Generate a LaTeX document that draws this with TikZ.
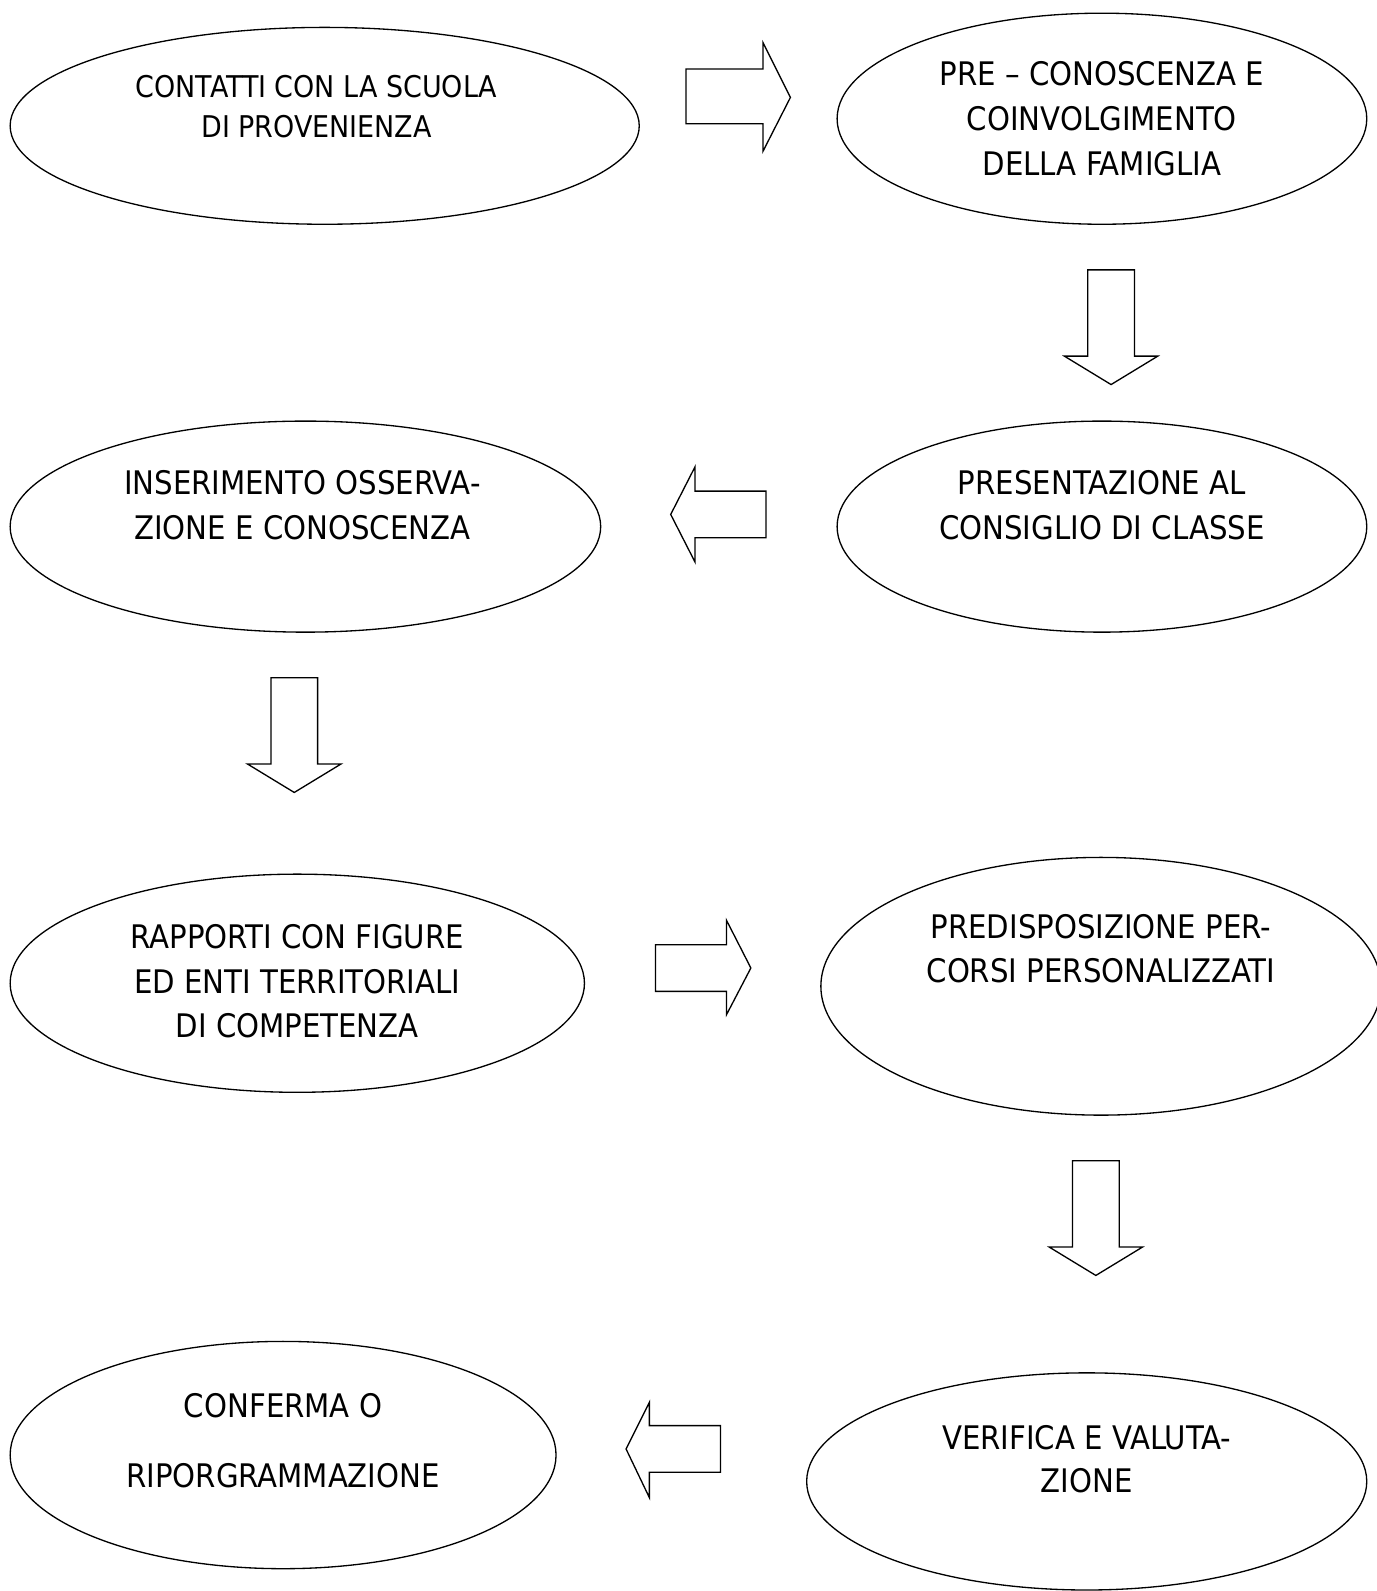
\documentclass[tikz,border=0pt]{standalone}
\usepackage{fontspec}
\setmainfont{DejaVu Sans Condensed}
\usetikzlibrary{shapes.geometric}
\begin{document}
\begin{tikzpicture}[x=1pt,y=-1pt,
  oval/.style={draw, line width=1.3pt, ellipse, inner sep=0pt},
  lbl/.style={align=center, inner sep=0pt, font=\fontsize{32}{44}\selectfont},
  blockarrow/.style={draw, line width=1.3pt, line join=miter}]
\useasboundingbox (0,0) rectangle (1357,1568);
% ellipses
\node[oval, minimum width=620pt, minimum height=194pt] (e1) at (320,124) {};
\node[oval, minimum width=522pt, minimum height=208pt] (e2) at (1086,117) {};
\node[oval, minimum width=582pt, minimum height=208pt] (e3) at (301,519) {};
\node[oval, minimum width=522pt, minimum height=208pt] (e4) at (1086,519) {};
\node[oval, minimum width=566pt, minimum height=215pt] (e5) at (293,969) {};
\node[oval, minimum width=552pt, minimum height=254pt] (e6) at (1085,972) {};
\node[oval, minimum width=538pt, minimum height=224pt] (e7) at (279,1434) {};
\node[oval, minimum width=552pt, minimum height=214pt] (e8) at (1071,1460) {};
% texts
\node[lbl, font=\fontsize{29.5}{40}\selectfont] (t1) at (312,105) {CONTATTI CON LA SCUOLA\\DI PROVENIENZA};
\node[lbl] (t2) at (1086,117) {PRE -- CONOSCENZA E\\COINVOLGIMENTO\\DELLA FAMIGLIA};
\node[lbl] (t3) at (298,498) {INSERIMENTO OSSERVA-\\ZIONE E CONOSCENZA};
\node[lbl] (t4) at (1086,498) {PRESENTAZIONE AL\\CONSIGLIO DI CLASSE};
\node[lbl] (t5) at (293,967) {RAPPORTI CON FIGURE\\ED ENTI TERRITORIALI\\DI COMPETENZA};
\node[lbl] (t6) at (1085,935) {PREDISPOSIZIONE PER-\\CORSI PERSONALIZZATI};
\node[lbl, font=\fontsize{32}{69}\selectfont] (t7) at (279,1420) {CONFERMA O\\RIPORGRAMMAZIONE};
\node[lbl, font=\fontsize{32}{43}\selectfont] (t8) at (1071,1438) {VERIFICA E VALUTA-\\ZIONE};
% block arrows
\draw[blockarrow] (676,68) -- (752,68) -- (752,42) -- (779,96) -- (752,149) -- (752,122) -- (676,122) -- cycle;
\draw[blockarrow] (1072,266) -- (1118,266) -- (1118,351) -- (1141,351) -- (1095,379) -- (1049,351) -- (1072,351) -- cycle;
\draw[blockarrow] (755,484) -- (685,484) -- (685,460) -- (661,507) -- (685,554) -- (685,530) -- (755,530) -- cycle;
\draw[blockarrow] (267,668) -- (313,668) -- (313,753) -- (336,753) -- (290,781) -- (244,753) -- (267,753) -- cycle;
\draw[blockarrow] (646,931) -- (716,931) -- (716,907) -- (740,954) -- (716,1000) -- (716,977) -- (646,977) -- cycle;
\draw[blockarrow] (1057,1144) -- (1103,1144) -- (1103,1229) -- (1126,1229) -- (1080,1257) -- (1034,1229) -- (1057,1229) -- cycle;
\draw[blockarrow] (710,1405) -- (640,1405) -- (640,1382) -- (617,1428) -- (640,1476) -- (640,1451) -- (710,1451) -- cycle;
\end{tikzpicture}
\end{document}
